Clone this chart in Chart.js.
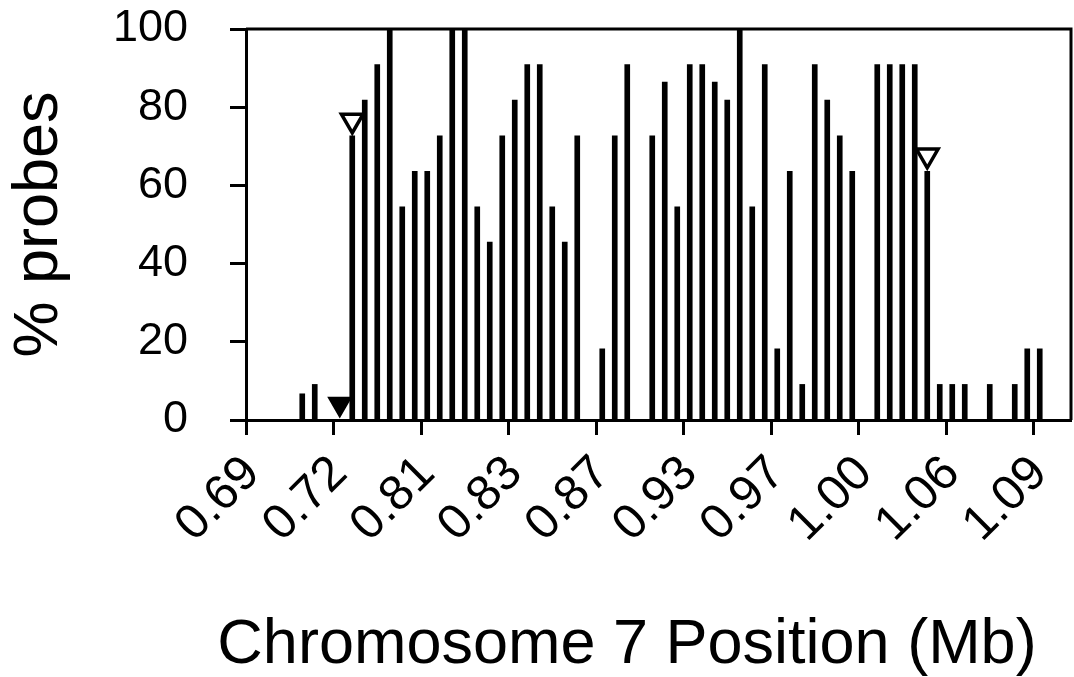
<!DOCTYPE html>
<html>
<head>
<meta charset="utf-8">
<title>Chromosome 7 Position (Mb)</title>
<script src="https://cdn.jsdelivr.net/npm/chart.js@4.4.1/dist/chart.umd.min.js"></script>
<style>
  html, body { margin: 0; padding: 0; background: #ffffff; }
  #wrap { width: 1074px; height: 677px; }
</style>
</head>
<body>
<div id="wrap"><canvas id="chart" width="1074" height="677"></canvas></div>
<script>
// Position labels shown under every 7th bin (Mb)
const positionLabels = ['0.69', '0.72', '0.81', '0.83', '0.87', '0.93', '0.97', '1.00', '1.06', '1.09'];
const labelEvery = 7;

// % of probes per bin, left to right
const probePercent = [
  0, 0, 0, 0, 6.7, 9.1, 0, 0,
  72.7, 81.8, 90.9, 100, 54.5, 63.6, 63.6, 72.7,
  100, 100, 54.5, 45.5, 72.7, 81.8, 90.9, 90.9,
  54.5, 45.5, 72.7, 0, 18.2, 72.7, 90.9, 0,
  72.7, 86.4, 54.5, 90.9, 90.9, 86.4, 81.8, 100,
  54.5, 90.9, 18.2, 63.6, 9.1, 90.9, 81.8, 72.7,
  63.6, 0, 90.9, 90.9, 90.9, 90.9, 63.6, 9.1,
  9.1, 9.1, 0, 9.1, 0, 9.1, 18.2, 18.2,
  0, 0
];

// Boundary markers: open triangles and a filled triangle
const openMarkerBins = [8, 54];
const openMarkerValues = [76.6, 67.7];
const filledMarkerBins = [7];
const filledMarkerValues = [4.1];

const yTicks = [0, 20, 40, 60, 80, 100];
const yTitle = '% probes';
const xTitle = 'Chromosome 7 Position (Mb)';

const FONT = '"Liberation Sans", Arial, Helvetica, sans-serif';

const binLabels = probePercent.map((_, i) =>
  i % labelEvery === 0 && positionLabels[i / labelEvery] !== undefined ? positionLabels[i / labelEvery] : '');

function markerSeries(bins, values) {
  const out = probePercent.map(() => null);
  bins.forEach((b, k) => { out[b] = values[k]; });
  return out;
}

// Closes the plot frame on the top and right sides
const frame = {
  id: 'frame',
  afterDatasetsDraw(chart) {
    const { ctx, chartArea: a } = chart;
    ctx.save();
    ctx.strokeStyle = '#000';
    ctx.lineWidth = 3;
    ctx.beginPath();
    ctx.moveTo(a.left, a.top);
    ctx.lineTo(a.right, a.top);
    ctx.lineTo(a.right, a.bottom);
    ctx.stroke();
    ctx.restore();
  }
};

// X axis title, set slightly left of the plot centre
const xAxisTitle = {
  id: 'xAxisTitle',
  afterDraw(chart) {
    const { ctx } = chart;
    ctx.save();
    ctx.font = '63px ' + FONT;
    ctx.fillStyle = '#000';
    ctx.textAlign = 'center';
    ctx.textBaseline = 'alphabetic';
    ctx.fillText(xTitle, 627, 663);
    ctx.restore();
  }
};

new Chart(document.getElementById('chart'), {
  type: 'bar',
  data: {
    labels: binLabels,
    datasets: [
      {
        type: 'line',
        data: markerSeries(openMarkerBins, openMarkerValues),
        showLine: false,
        pointStyle: 'triangle',
        rotation: 180,
        pointRadius: 12.5,
        pointBorderWidth: 3.5,
        pointBackgroundColor: '#ffffff',
        pointBorderColor: '#000000',
        order: 0
      },
      {
        type: 'line',
        data: markerSeries(filledMarkerBins, filledMarkerValues),
        showLine: false,
        pointStyle: 'triangle',
        rotation: 180,
        pointRadius: 12.5,
        pointBorderWidth: 2,
        pointBackgroundColor: '#000000',
        pointBorderColor: '#000000',
        order: 0
      },
      {
        type: 'bar',
        data: probePercent,
        backgroundColor: '#000000',
        borderWidth: 0,
        barThickness: 5,
        order: 1
      }
    ]
  },
  options: {
    responsive: false,
    animation: false,
    devicePixelRatio: 1,
    layout: { autoPadding: false, padding: { top: 29, right: 3, bottom: 132, left: 0 } },
    plugins: { legend: { display: false }, tooltip: { enabled: false } },
    scales: {
      x: {
        type: 'category',
        offset: true,
        grid: {
          offset: true,
          drawOnChartArea: false,
          drawTicks: true,
          tickLength: 15,
          tickWidth: 3,
          tickColor: (c) => (c.index % labelEvery === 0 && c.index < probePercent.length - 1) ? '#000' : 'rgba(0,0,0,0)'
        },
        border: { display: true, color: '#000', width: 3 },
        ticks: {
          autoSkip: false,
          minRotation: 45,
          maxRotation: 45,
          padding: 10,
          color: '#000',
          font: { family: FONT, size: 49 }
        },
        afterFit(scale) {
          scale.height = 125;
          scale.paddingLeft = 0;
          scale.paddingRight = 0;
        }
      },
      y: {
        min: 0,
        max: 100,
        afterBuildTicks(scale) { scale.ticks = yTicks.map(v => ({ value: v })); },
        grid: {
          drawOnChartArea: false,
          drawTicks: true,
          tickLength: 16,
          tickWidth: 3,
          tickColor: '#000'
        },
        border: { display: true, color: '#000', width: 3 },
        ticks: {
          padding: 42,
          color: '#000',
          font: { family: FONT, size: 45 }
        },
        title: {
          display: true,
          text: yTitle,
          color: '#000',
          font: { family: FONT, size: 63 },
          padding: { top: 2, bottom: 35 }
        },
        afterFit(scale) {
          scale.width = 246;
          scale.paddingTop = 0;
          scale.paddingBottom = 0;
        }
      }
    }
  },
  plugins: [frame, xAxisTitle]
});
</script>
</body>
</html>
